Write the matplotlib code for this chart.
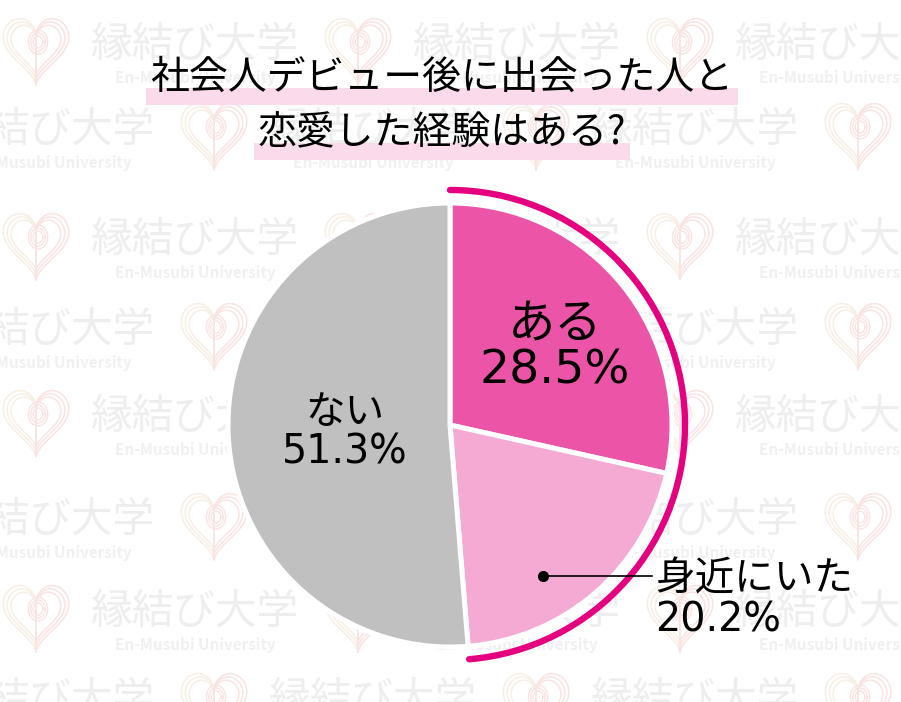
import numpy as np
import matplotlib.pyplot as plt
from matplotlib.patches import Arc, Rectangle

plt.rcParams['font.family'] = ['Noto Sans CJK JP', 'DejaVu Sans']

# data
labels = ['ある', '身近にいた', 'ない']
values = [28.5, 20.2, 51.3]
colors = ['#EC55A7', '#F5AAD3', '#C0C0C0']
title_lines = ['社会人デビュー後に出会った人と', '恋愛した経験はある?']

W, H = 901, 702
fig = plt.figure(figsize=(W / 100, H / 100), dpi=100)
ax = fig.add_axes([0, 0, 1, 1])


def Y(y):
    # image pixel row -> data y
    return H - y


# faint watermark background
def heart(cx, cy):
    t = np.linspace(0, 2 * np.pi, 241)
    hx = 16 * np.sin(t) ** 3
    hy = 13 * np.cos(t) - 5 * np.cos(2 * t) - 2 * np.cos(3 * t) - np.cos(4 * t)
    left = hx <= 0.05
    right = hx >= -0.05
    for s in [1.0, 0.88, 0.76]:
        xs = cx + hx * 2.05 * s
        ys = Y(cy) + hy * 2.3 * s + 4
        ax.plot(xs[left], ys[left], color='#F8EFE4', lw=1.1, zorder=0)
        ax.plot(xs[right], ys[right], color='#FAE3E3', lw=1.1, zorder=0)
    a = np.linspace(0, 2 * np.pi, 100)
    for r in [12, 9, 6]:
        ax.plot(cx + 2 + r * 0.8 * np.cos(a), Y(cy) + 8 + r * np.sin(a),
                color='#FAE3E3', lw=1.0, zorder=0)


rows = [(45, 0), (130, 1), (240, 0), (330, 1), (417, 0), (520, 1), (612, 0), (700, 1)]
for ry, kind in rows:
    shift = 0 if kind == 0 else -144
    for k in range(-1, 4):
        tx = 195 + shift + 322 * k
        hx0 = 36 + shift + 322 * k + (322 if kind == 1 else 0)
        ax.text(tx, Y(ry), '縁結び大学', fontsize=30, color='#EEEEEE',
                ha='center', va='center', zorder=0)
        ax.text(tx, Y(ry + 33), 'En-Musubi University', fontsize=11, fontweight='bold',
                color='#F0F0F0', ha='center', va='center', zorder=0)
        heart(hx0, ry + 5)

# pie
cx, cy, R = 450, 425, 222
wedges, _ = ax.pie(values, colors=colors, startangle=90, counterclock=False,
                   radius=R, center=(cx, Y(cy)),
                   wedgeprops=dict(edgecolor='white', linewidth=3.6, zorder=2))

# outer arc around "ある" + "身近にいた"
ax.add_patch(Arc((cx, Y(cy)), 2 * 235, 2 * 235, theta1=wedges[1].theta1,
                 theta2=wedges[0].theta2, color='#E4007F', lw=4.6,
                 capstyle='round', zorder=3))

ax.set_xlim(0, W)
ax.set_ylim(0, H)
ax.set_aspect('equal')
ax.axis('off')

# slice labels
lab_font = ['DejaVu Sans', 'Noto Sans CJK JP']
ax.text(555, Y(348), f'{labels[0]}\n{values[0]}%', fontsize=34, ha='center',
        va='center', linespacing=1.0, family=lab_font, zorder=4)
ax.text(345, Y(433), f'{labels[2]}\n{values[2]}%', fontsize=28.5, ha='center',
        va='center', linespacing=1.0, family=lab_font, zorder=4)
ax.text(655, Y(600), f'{labels[1]}\n{values[1]}%', fontsize=28.5, ha='left',
        va='center', linespacing=1.0, family=lab_font, zorder=4)
ax.plot([543, 652], [Y(576), Y(576)], color='black', lw=1.2, zorder=4)
ax.plot(543, Y(576), 'o', color='black', ms=7, zorder=4)

# title with highlight bars
fig.canvas.draw()
renderer = fig.canvas.get_renderer()
for line, y in zip(title_lines, [78, 133]):
    t = ax.text(442, Y(y), line, fontsize=28, ha='center', va='center', zorder=5)
    bb = t.get_window_extent(renderer)
    ax.add_patch(Rectangle((bb.x0 - 4, Y(y + 27)), bb.width + 8, 17,
                           color='#FADAEB', lw=0, zorder=4))

fig.savefig('out.png', dpi=100, facecolor='white')
